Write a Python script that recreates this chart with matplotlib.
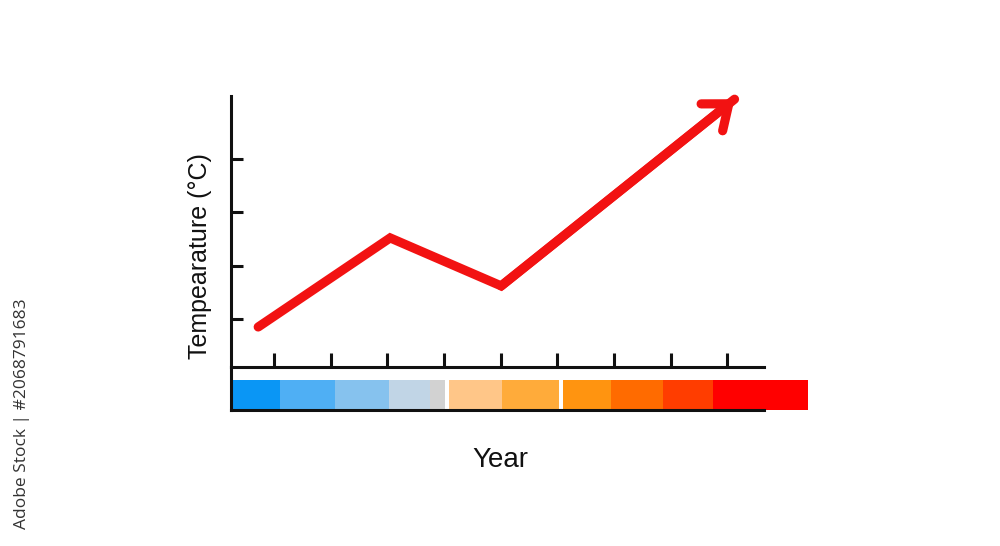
import matplotlib.pyplot as plt

# year positions of the ticks and the temperature curve
years = [1, 2, 3, 4, 5, 6, 7, 8, 9]
temp_ticks = [1, 2, 3, 4]
line_x = [0.72, 3.05, 5.01, 9.13]
line_y = [0.85, 2.52, 1.62, 5.12]

# colour strip below the axis (start / end in year units)
strip_left = [0.24, 1.106, 2.078, 3.032, 3.756, 4.092, 5.028, 6.106, 6.954, 7.873, 8.756]
strip_right = [1.106, 2.078, 3.032, 3.756, 4.021, 5.028, 6.035, 6.954, 7.873, 8.756, 10.42]
strip_colors = ['#0A96F5', '#4FAFF4', '#86C2EE', '#C1D5E6', '#D2D2D2',
                '#FFC688', '#FFAB3A', '#FF9410', '#FF6B00', '#FF3D00', '#FF0000']

red = '#F21212'
ink = '#111111'
spine_w = 2.2

fig = plt.figure(figsize=(10, 5.46), dpi=100)

# colour strip axes (added first so the main axis line sits on top)
bx = fig.add_axes([0.231, 1 - 410 / 546, 0.533, (410 - 367) / 546])
bx.patch.set_visible(False)
bx.set_xlim(0.24, 9.65)
bx.set_ylim(0, 1)
for s in ['top', 'right']:
    bx.spines[s].set_visible(False)
for s in ['left', 'bottom']:
    bx.spines[s].set_linewidth(spine_w)
    bx.spines[s].set_color(ink)
    bx.spines[s].set_zorder(5)
bx.set_xticks([])
bx.set_yticks([])
widths = [r - l for l, r in zip(strip_left, strip_right)]
bx.bar(strip_left, 0.69, width=widths, align='edge', color=strip_colors, linewidth=0,
       clip_on=False, zorder=2)

# main axes
ax = fig.add_axes([0.231, 1 - 367 / 546, 0.533, (367 - 96) / 546])
ax.patch.set_visible(False)
ax.set_xlim(0.24, 9.65)
ax.set_ylim(0.1, 5.18)
for s in ['top', 'right']:
    ax.spines[s].set_visible(False)
for s in ['left', 'bottom']:
    ax.spines[s].set_linewidth(spine_w)
    ax.spines[s].set_color(ink)
ax.set_xticks(years)
ax.set_yticks(temp_ticks)
ax.tick_params(axis='x', direction='in', length=10, width=spine_w, color=ink, labelbottom=False)
ax.tick_params(axis='y', direction='in', length=8.6, width=spine_w, color=ink, labelleft=False)

ax.plot(line_x, line_y, color=red, lw=6.6, solid_capstyle='round', solid_joinstyle='miter',
        clip_on=False, zorder=3)
ax.annotate('', xy=(line_x[-1], line_y[-1]), xytext=(line_x[-2], line_y[-2]),
            arrowprops=dict(arrowstyle='->,head_length=15.6,head_width=12.4', mutation_scale=1,
                            color=red, lw=6.6, shrinkA=0, shrinkB=0,
                            capstyle='round', joinstyle='miter'),
            annotation_clip=False, zorder=3)

fig.text(0.200, 1 - 256 / 546, 'Tempearature (°C)', rotation=90, ha='center', va='center',
         fontsize=18, family='Liberation Sans', color=ink)
fig.text(0.500, 1 - 460 / 546, 'Year', ha='center', va='center',
         fontsize=20, family='Liberation Sans', color=ink)
fig.text(0.022, 1 - 414 / 546, 'Adobe Stock | #2068791683', rotation=90, ha='center', va='center',
         fontsize=12.5, family='Open Sans', color='#333333')

fig.savefig('out.png', dpi=100)
